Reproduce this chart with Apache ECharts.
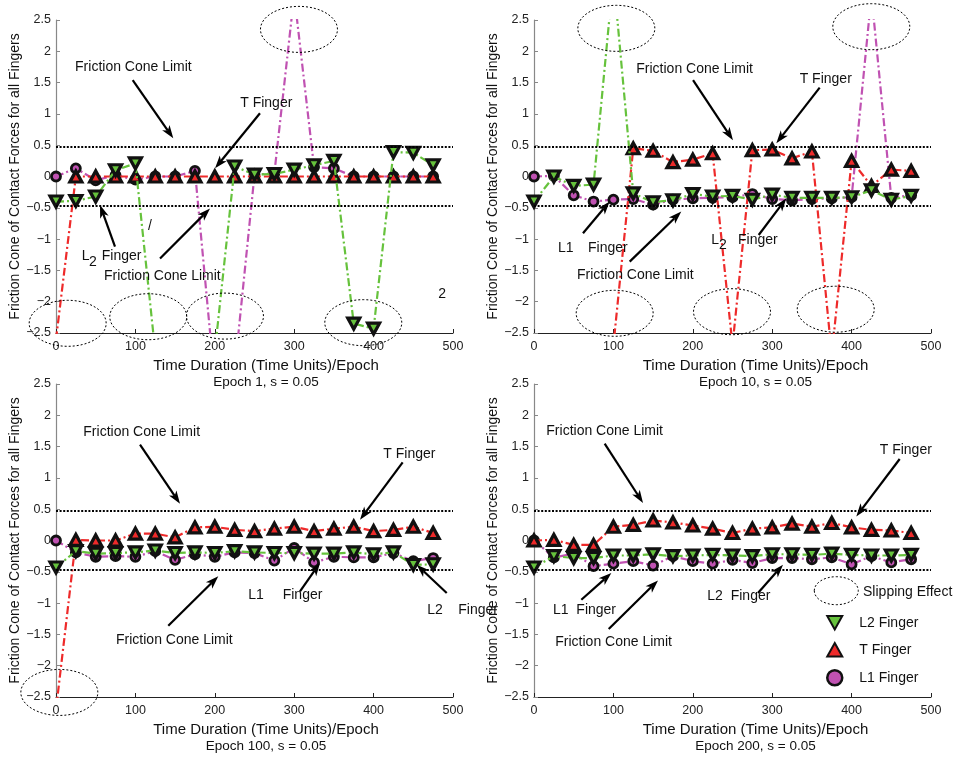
<!DOCTYPE html>
<html>
<head>
<meta charset="utf-8">
<script src="https://cdn.jsdelivr.net/npm/echarts@6/dist/echarts.min.js"></script>
<style>
  html, body { margin: 0; padding: 0; background: #fff; }
  #chart { width: 957px; height: 760px; }
</style>
</head>
<body>
<div id="chart"></div>
<script>
// Sample instants along one epoch (time units)
const timeSteps = [0, 25, 50, 75, 100, 125, 150, 175, 200, 225, 250, 275, 300, 325, 350, 375, 400, 425, 450, 475];

// Epoch 1
const l2Epoch1 = [-0.40, -0.39, -0.32, 0.10, 0.21, -2.80, -2.90, -2.90, -2.80, 0.16, 0.03, 0.04, 0.11, 0.18, 0.25, -2.35, -2.43, 0.39, 0.38, 0.18];
const tEpoch1  = [-2.60, 0, 0, 0, 0, 0, 0, 0, 0, 0, 0, 0, 0, 0, 0, 0, 0, 0, 0, 0];
const l1Epoch1 = [0, 0.13, -0.06, 0.02, -0.05, 0, 0, 0.09, -3.30, -3.10, 0.03, 0.05, 2.90, 0.15, 0.13, 0, 0, 0, 0, 0];

// Epoch 10
const l2Epoch10 = [-0.40, 0.00, -0.15, -0.13, 3.20, -0.27, -0.41, -0.38, -0.28, -0.32, -0.31, -0.37, -0.29, -0.34, -0.34, -0.34, -0.33, -0.22, -0.37, -0.31];
const tEpoch10  = [-3.00, -3.00, -3.00, -3.00, -2.70, 0.45, 0.41, 0.23, 0.27, 0.37, -2.70, 0.42, 0.43, 0.29, 0.40, -2.85, 0.25, -0.15, 0.11, 0.09];
const l1Epoch10 = [0, 0.01, -0.30, -0.40, -0.37, -0.36, -0.45, -0.37, -0.35, -0.34, -0.33, -0.28, -0.36, -0.38, -0.36, -0.35, -0.33, 2.90, -0.34, -0.30];

// Epoch 100
const l2Epoch100 = [-0.43, -0.17, -0.21, -0.20, -0.19, -0.16, -0.20, -0.19, -0.20, -0.17, -0.19, -0.20, -0.20, -0.21, -0.21, -0.19, -0.22, -0.19, -0.39, -0.38];
const tEpoch100  = [-2.70, 0.01, 0.00, 0.00, 0.11, 0.11, 0.05, 0.21, 0.22, 0.17, 0.15, 0.19, 0.22, 0.15, 0.19, 0.22, 0.15, 0.17, 0.22, 0.12];
const l1Epoch100 = [0, -0.19, -0.26, -0.25, -0.26, -0.17, -0.31, -0.22, -0.26, -0.19, -0.20, -0.32, -0.12, -0.35, -0.26, -0.27, -0.27, -0.20, -0.33, -0.28];

// Epoch 200
const l2Epoch200 = [-0.43, -0.25, -0.28, -0.28, -0.24, -0.24, -0.22, -0.25, -0.24, -0.23, -0.24, -0.25, -0.22, -0.22, -0.23, -0.21, -0.23, -0.24, -0.24, -0.23];
const tEpoch200  = [0, 0.01, -0.07, -0.07, 0.22, 0.25, 0.32, 0.29, 0.24, 0.19, 0.12, 0.19, 0.21, 0.27, 0.22, 0.28, 0.21, 0.17, 0.16, 0.12];
const l1Epoch200 = [0, -0.27, -0.21, -0.41, -0.37, -0.33, -0.40, -0.25, -0.33, -0.37, -0.31, -0.36, -0.28, -0.28, -0.30, -0.27, -0.38, -0.25, -0.35, -0.30];

// Friction cone bound drawn as dotted lines
const frictionLimit = [0.47, -0.47];

const epochTitles = ['Epoch 1, s = 0.05', 'Epoch 10, s = 0.05', 'Epoch 100, s = 0.05', 'Epoch 200, s = 0.05'];
const seriesNames = ['L2 Finger', 'T Finger', 'L1 Finger'];

const panels = [
  { l2: l2Epoch1,   t: tEpoch1,   l1: l1Epoch1 },
  { l2: l2Epoch10,  t: tEpoch10,  l1: l1Epoch10 },
  { l2: l2Epoch100, t: tEpoch100, l1: l1Epoch100 },
  { l2: l2Epoch200, t: tEpoch200, l1: l1Epoch200 }
];

// Call-outs per panel, placed in data units (time, force)
const panelNotes = [
  {
    texts: [['Friction Cone Limit', 24, 1.74], ['T Finger', 232, 1.17],
            ['L', 32.4, -1.28], ['2', 41.6, -1.37], ['Finger', 57.6, -1.28],
            ['Friction Cone Limit', 60.5, -1.59], ['/', 116, -0.80], ['2', 481.5, -1.88]],
    arrows: [[[96.6, 1.54], [147.7, 0.61]], [[256.9, 1.01], [200.3, 0.13]],
             [[74.3, -1.12], [55.4, -0.455]], [[131, -1.31], [194, -0.51]]],
    slips: [[306, 2.35], [14.7, -2.345], [116.2, -2.24], [212.8, -2.23], [387, -2.335]]
  },
  {
    texts: [['Friction Cone Limit', 128.8, 1.717], ['T Finger', 334.6, 1.557],
            ['L1', 30.2, -1.147], ['Finger', 68, -1.147], ['Friction Cone Limit', 54.2, -1.573],
            ['L', 223.3, -1.014], ['2', 233, -1.10], ['Finger', 257, -1.014]],
    arrows: [[[200.3, 1.54], [250.6, 0.58]], [[359.8, 1.42], [305.2, 0.53]],
             [[61.7, -0.907], [95.3, -0.40]], [[120.5, -1.36], [185.5, -0.56]],
             [[283, -0.935], [317.8, -0.348]]],
    slips: [[103.7, 2.367], [424.8, 2.393], [101.6, -2.185], [249.4, -2.16], [380, -2.12]]
  },
  {
    texts: [['Friction Cone Limit', 34.4, 1.727], ['T Finger', 412.2, 1.387],
            ['L1', 242.2, -0.866], ['Finger', 285.5, -0.866],
            ['L2', 467.6, -1.105], ['Finger', 506.7, -1.105], ['Friction Cone Limit', 75.6, -1.585]],
    arrows: [[[105.8, 1.53], [156.2, 0.588]], [[436.6, 1.248], [382.9, 0.332]],
             [[307.3, -0.813], [332.5, -0.359]], [[492.1, -0.839], [454.3, -0.387]],
             [[141.4, -1.361], [204.4, -0.573]]],
    slips: [[4.2, -2.427]]
  },
  {
    texts: [['Friction Cone Limit', 15.5, 1.743], ['T Finger', 435.4, 1.439],
            ['L1  Finger', 23.9, -1.105], ['Friction Cone Limit', 26.8, -1.628],
            ['L2  Finger', 218.3, -0.882], ['Slipping Effect', 414.4, -0.823]],
    arrows: [[[89, 1.546], [137.3, 0.599]], [[460.6, 1.302], [405.9, 0.385]],
             [[59.6, -0.946], [97.4, -0.519]], [[94.1, -1.414], [156.2, -0.637]],
             [[282.1, -0.839], [313.6, -0.387]]],
    slips: [],
    legendSlip: [380.7, -0.802]
  }
];

const FONT = '"Liberation Sans", Arial, Helvetica, sans-serif';
const GREEN = '#66C23C';
const RED = '#EE2A2A';
const MAGENTA = '#C052B2';
const DASH_DOT = [8, 3, 2, 3];

const gridBoxes = [
  { left: 56,  top: 20,  width: 397, height: 313 },
  { left: 534, top: 20,  width: 397, height: 313 },
  { left: 56,  top: 384, width: 397, height: 313 },
  { left: 534, top: 384, width: 397, height: 313 }
];
const nameShift = [23, 46, 23, 46];

const pair = ys => timeSteps.map((x, i) => [x, ys[i]]);
const minusSign = v => String(v).replace('-', '\u2212');

const chart = echarts.init(document.getElementById('chart'), null, { renderer: 'canvas' });

const xAxes = [], yAxes = [], series = [];
panels.forEach((p, i) => {
  xAxes.push({
    gridIndex: i, type: 'value', min: 0, max: 500, interval: 100,
    axisLine: { onZero: false, lineStyle: { color: '#222', width: 1 } },
    axisTick: { inside: true, length: 4, lineStyle: { color: '#222' } },
    axisLabel: { fontSize: 12.5, color: '#222', margin: 7, fontFamily: FONT },
    splitLine: { show: false },
    name: '{t|Time Duration (Time Units)/Epoch}\n{e|' + epochTitles[i] + '}',
    nameLocation: 'middle', nameGap: 24,
    nameTextStyle: {
      fontFamily: FONT, color: '#111', padding: [0, 0, 0, nameShift[i]],
      rich: {
        t: { fontSize: 15, lineHeight: 17, fontFamily: FONT, color: '#111' },
        e: { fontSize: 13.5, lineHeight: 17, fontFamily: FONT, color: '#111' }
      }
    }
  });
  yAxes.push({
    gridIndex: i, type: 'value', min: -2.5, max: 2.5, interval: 0.5,
    axisLine: { show: true, onZero: false, lineStyle: { color: '#888', width: 1.2 } },
    axisTick: { show: true, inside: true, length: 4, lineStyle: { color: '#888' } },
    axisLabel: { fontSize: 12.5, color: '#222', margin: 5, fontFamily: FONT, formatter: minusSign },
    splitLine: { show: false },
    name: 'Friction Cone of Contact Forces for all Fingers',
    nameLocation: 'middle', nameGap: 33, nameRotate: 90,
    nameTextStyle: { fontSize: 14, color: '#111', fontFamily: FONT }
  });

  const base = { type: 'line', xAxisIndex: i, yAxisIndex: i, clip: true, animation: false,
                 emphasis: { disabled: true }, silent: true };
  series.push(Object.assign({}, base, {
    name: seriesNames[2], data: pair(p.l1), z: 2,
    symbol: 'circle', symbolSize: 9,
    lineStyle: { color: MAGENTA, width: 2.2, type: DASH_DOT },
    itemStyle: { color: MAGENTA, borderColor: '#111', borderWidth: 2.8 },
    markLine: {
      silent: true, symbol: 'none', label: { show: false },
      lineStyle: { color: '#000', width: 2, type: [2, 1.6] },
      data: frictionLimit.map(v => ({ yAxis: v }))
    }
  }));
  series.push(Object.assign({}, base, {
    name: seriesNames[1], data: pair(p.t), z: 3,
    symbol: 'triangle', symbolSize: [12, 11],
    lineStyle: { color: RED, width: 2.2, type: DASH_DOT },
    itemStyle: { color: RED, borderColor: '#111', borderWidth: 3.2 }
  }));
  series.push(Object.assign({}, base, {
    name: seriesNames[0], data: pair(p.l2), z: 4,
    symbol: 'triangle', symbolSize: [12, 11], symbolRotate: 180,
    lineStyle: { color: GREEN, width: 2.2, type: DASH_DOT },
    itemStyle: { color: GREEN, borderColor: '#111', borderWidth: 3.2 }
  }));
});

chart.setOption({
  backgroundColor: '#fff',
  animation: false,
  grid: gridBoxes,
  xAxis: xAxes,
  yAxis: yAxes,
  legend: {
    orient: 'vertical', left: 821, top: 610, itemWidth: 15, itemHeight: 15, itemGap: 11.5,
    selectedMode: false,
    textStyle: { fontSize: 14, color: '#111', fontFamily: FONT, padding: [0, 0, 0, 12] },
    data: [
      { name: 'L2 Finger', icon: 'path://M0,0 L10,0 L5,9 Z', itemStyle: { borderWidth: 2 } },
      { name: 'T Finger', icon: 'path://M5,0 L10,9 L0,9 Z', itemStyle: { borderWidth: 2 } },
      { name: 'L1 Finger', icon: 'circle', itemStyle: { borderWidth: 2.5 } }
    ]
  },
  series: series
});

// Call-out layer: labels, arrows and dotted "slipping" ellipses
function arrow(p1, p2) {
  const dx = p2[0] - p1[0], dy = p2[1] - p1[1];
  const len = Math.hypot(dx, dy);
  const ux = dx / len, uy = dy / len, nx = -uy, ny = ux;
  const L = 13, W = 4.5, notch = 3.5;
  const bx = p2[0] - ux * L, by = p2[1] - uy * L;
  const mx = p2[0] - ux * (L - notch), my = p2[1] - uy * (L - notch);
  return [
    { type: 'line', silent: true, z: 50, shape: { x1: p1[0], y1: p1[1], x2: mx, y2: my },
      style: { stroke: '#000', lineWidth: 2.2 } },
    { type: 'polygon', silent: true, z: 50,
      shape: { points: [p2, [bx + nx * W, by + ny * W], [mx, my], [bx - nx * W, by - ny * W]] },
      style: { fill: '#000' } }
  ];
}
function ellipse(c, rx, ry) {
  return { type: 'ellipse', silent: true, z: 50, shape: { cx: c[0], cy: c[1], rx: rx, ry: ry },
           style: { fill: 'none', stroke: '#000', lineWidth: 1, lineDash: [2, 2] } };
}

const graphics = [];
panelNotes.forEach((note, i) => {
  const toPx = v => chart.convertToPixel({ gridIndex: i }, v);
  note.texts.forEach(([text, x, y]) => {
    const pt = toPx([x, y]);
    graphics.push({ type: 'text', silent: true, z: 50, x: pt[0], y: pt[1],
      style: { text: text, fontSize: 14, fontFamily: FONT, fill: '#111', align: 'left', verticalAlign: 'middle' } });
  });
  note.arrows.forEach(([a, b]) => graphics.push(...arrow(toPx(a), toPx(b))));
  note.slips.forEach(c => graphics.push(ellipse(toPx(c), 38.5, 23)));
  if (note.legendSlip) graphics.push(ellipse(toPx(note.legendSlip), 22, 14));
});

chart.setOption({ graphic: graphics });
</script>
</body>
</html>
